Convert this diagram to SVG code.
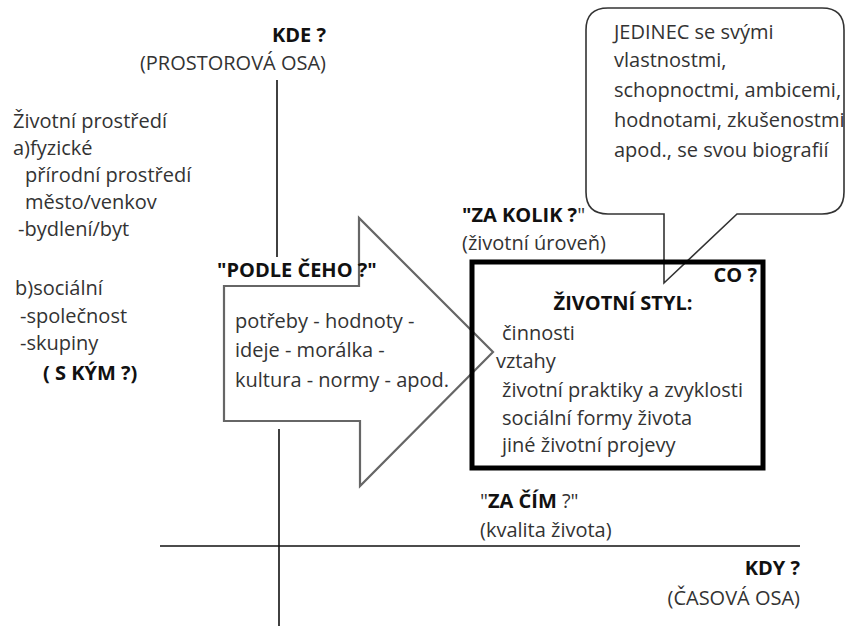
<svg xmlns="http://www.w3.org/2000/svg" width="846" height="626" viewBox="0 0 846 626">
<style>
text{font-family:"Open Sans","Noto Sans","DejaVu Sans",sans-serif;font-size:20px;fill:#333}
.b{font-weight:bold;fill:#111}
.axis{stroke:#111;stroke-width:1.6;fill:none}
.arrow{stroke:#666;stroke-width:2.2;fill:#fff}
.bubble{stroke:#333;stroke-width:1.6;fill:#fff}
.box{stroke:#000;stroke-width:5;fill:none}
</style>
<g id="connectors">
<line class="axis" x1="277" y1="80" x2="277" y2="257"/>
<line class="axis" x1="279" y1="429" x2="279" y2="626"/>
<line class="axis" x1="160" y1="546" x2="800" y2="546"/>
</g>
<g id="axis-labels">
<text class="b" x="326" y="42" text-anchor="end">KDE ?</text>
<text x="326" y="70" text-anchor="end">(PROSTOROVÁ OSA)</text>
<text class="b" x="800" y="575" text-anchor="end">KDY ?</text>
<text x="800" y="605" text-anchor="end">(ČASOVÁ OSA)</text>
</g>
<g id="environment">
<text x="13" y="128">Životní prostředí</text>
<text x="13" y="155">a)fyzické</text>
<text x="25" y="182">přírodní prostředí</text>
<text x="25" y="209">město/venkov</text>
<text x="18" y="236">-bydlení/byt</text>
<text x="15" y="295">b)sociální</text>
<text x="20" y="323">-společnost</text>
<text x="20" y="350">-skupiny</text>
<text class="b" x="43" y="380">( S KÝM ?)</text>
</g>
<g id="arrow">
<polygon class="arrow" points="224,286 359,286 359,218 493,352 360,486 360,421 224,421"/>
<text class="b" x="217" y="277">"PODLE ČEHO ?"</text>
<text x="235" y="328">potřeby - hodnoty -</text>
<text x="235" y="357">ideje - morálka -</text>
<text x="235" y="387">kultura - normy - apod.</text>
</g>
<g id="za-kolik">
<text x="462" y="222"><tspan class="b">"ZA KOLIK ?</tspan>"</text>
<text x="462" y="250">(životní úroveň)</text>
</g>
<g id="za-cim">
<text x="480" y="508">"<tspan class="b">ZA ČÍM</tspan> ?"</text>
<text x="480" y="537">(kvalita života)</text>
</g>
<g id="jedinec">
<path class="bubble" d="M608,8 H822 Q844,8 844,30 V192 Q844,214 822,214 H737 L664,283 V214 H608 Q586,214 586,192 V30 Q586,8 608,8 Z"/>
<text x="614" y="39">JEDINEC se svými</text>
<text x="614" y="67">vlastnostmi,</text>
<text x="614" y="97">schopnoctmi, ambicemi,</text>
<text x="614" y="127">hodnotami, zkušenostmi</text>
<text x="614" y="157">apod., se svou biografií</text>
</g>
<g id="zivotni-styl">
<rect class="box" x="472" y="262" width="291" height="206"/>
<text class="b" x="757" y="282" text-anchor="end">CO ?</text>
<text class="b" x="623" y="310" text-anchor="middle">ŽIVOTNÍ STYL:</text>
<text x="502" y="340">činnosti</text>
<text x="496" y="368">vztahy</text>
<text x="502" y="397">životní praktiky a zvyklosti</text>
<text x="502" y="425">sociální formy života</text>
<text x="502" y="452">jiné životní projevy</text>
</g>
</svg>
